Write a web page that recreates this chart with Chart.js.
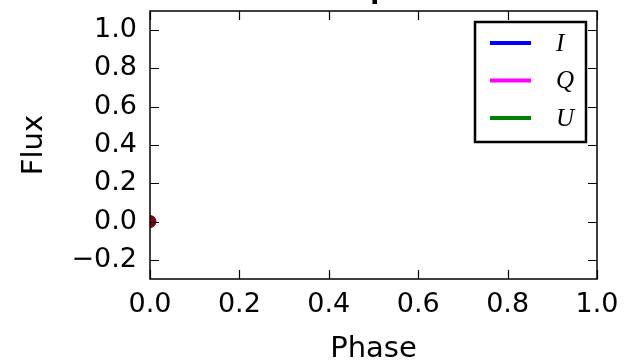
<!DOCTYPE html>
<html>
<head>
<meta charset="utf-8">
<script src="https://cdn.jsdelivr.net/npm/chart.js@4/dist/chart.umd.min.js"></script>
<style>
  html, body { margin: 0; padding: 0; background: #fff; }
  canvas { display: block; }
</style>
</head>
<body>
<canvas id="c" width="632" height="364"></canvas>
<script>
// Stokes pulse profile: phase on x, flux on y
const phasePoints = [0.0];
const fluxPoints = [0.0];
const seriesNames = ['I', 'Q', 'U'];
const seriesColors = ['#0000ff', '#ff00ff', '#008000'];
const seriesI = [];
const seriesQ = [];
const seriesU = [];
const xTicks = [0.0, 0.2, 0.4, 0.6, 0.8, 1.0];
const yTicks = [-0.2, 0.0, 0.2, 0.4, 0.6, 0.8, 1.0];
const titleText = 'Pulse profile';

const tickFont = { family: 'DejaVu Sans', size: 27 };
const labelFont = { family: 'DejaVu Sans', size: 29 };

// Frame with inward ticks on all four sides, plus the boxed legend
const framePlugin = {
  id: 'frame',
  afterDatasetsDraw(chart) {
    const { ctx, chartArea: a, scales } = chart;
    const x = scales.x, y = scales.y;
    ctx.save();
    ctx.strokeStyle = '#000';
    ctx.lineWidth = 1.5;
    ctx.strokeRect(a.left, a.top, a.right - a.left, a.bottom - a.top);
    const tl = 9;
    ctx.beginPath();
    xTicks.forEach(v => {
      const px = Math.round(x.getPixelForValue(v)) + 0.5;
      ctx.moveTo(px, a.bottom); ctx.lineTo(px, a.bottom - tl);
      ctx.moveTo(px, a.top); ctx.lineTo(px, a.top + tl);
    });
    yTicks.forEach(v => {
      const py = Math.round(y.getPixelForValue(v)) + 0.5;
      ctx.moveTo(a.left, py); ctx.lineTo(a.left + tl, py);
      ctx.moveTo(a.right, py); ctx.lineTo(a.right - tl, py);
    });
    ctx.lineWidth = 1.2;
    ctx.stroke();

    // legend box
    const bx = 475, by = 22, bw = 111, bh = 120;
    ctx.fillStyle = '#fff';
    ctx.fillRect(bx, by, bw, bh);
    ctx.lineWidth = 2.5;
    ctx.strokeRect(bx, by, bw, bh);
    const ds = chart.data.datasets.filter(d => d.inLegend);
    ds.forEach((d, i) => {
      const ry = 43 + i * 37.5;
      ctx.strokeStyle = d.borderColor;
      ctx.lineWidth = 4;
      ctx.beginPath();
      ctx.moveTo(490, ry); ctx.lineTo(531, ry);
      ctx.stroke();
      ctx.fillStyle = '#000';
      ctx.font = 'italic 25px "Liberation Serif"';
      ctx.textAlign = 'left';
      ctx.textBaseline = 'middle';
      ctx.fillText(d.label, 556, ry + 1);
    });

    // title, set above the top of the canvas
    ctx.fillStyle = '#000';
    ctx.font = 'bold 26px "DejaVu Sans"';
    ctx.textAlign = 'center';
    ctx.textBaseline = 'alphabetic';
    ctx.fillText(titleText, (a.left + a.right) / 2, -2);
    ctx.restore();
  }
};

const lineSet = (name, color, data) => ({
  label: name, data, inLegend: true, showLine: true,
  borderColor: color, backgroundColor: color, borderWidth: 2, pointRadius: 0
});

new Chart(document.getElementById('c'), {
  type: 'scatter',
  data: {
    datasets: [
      lineSet(seriesNames[0], seriesColors[0], seriesI),
      lineSet(seriesNames[1], seriesColors[1], seriesQ),
      lineSet(seriesNames[2], seriesColors[2], seriesU),
      {
        label: 'phase point',
        data: phasePoints.map((p, i) => ({ x: p, y: fluxPoints[i] })),
        pointRadius: 6,
        pointBackgroundColor: '#8b0010',
        pointBorderColor: '#5a0008',
        pointBorderWidth: 1,
        clip: 0
      }
    ]
  },
  options: {
    responsive: false,
    animation: false,
    events: [],
    layout: { padding: { top: 11, right: 35, left: 0, bottom: 0 } },
    plugins: { legend: { display: false }, title: { display: false }, tooltip: { enabled: false } },
    scales: {
      x: {
        type: 'linear', min: 0, max: 1,
        grid: { display: false, drawTicks: false },
        border: { display: false },
        afterBuildTicks: s => { s.ticks = xTicks.map(v => ({ value: v })); },
        afterFit: s => { s.height = 85; s.paddingLeft = 0; s.paddingRight = 0; },
        ticks: { font: tickFont, color: '#000', padding: 10, maxRotation: 0,
                 callback: v => v.toFixed(1) },
        title: { display: true, text: 'Phase', font: labelFont,
                 color: '#000', padding: { top: 0, bottom: -3 } }
      },
      y: {
        type: 'linear', min: -0.3, max: 1.1,
        grid: { display: false, drawTicks: false },
        border: { display: false },
        afterBuildTicks: s => { s.ticks = yTicks.map(v => ({ value: v })); },
        afterFit: s => { s.width = 150; s.paddingTop = 0; s.paddingBottom = 0; },
        ticks: { font: tickFont, color: '#000', padding: 13,
                 callback: v => (v < 0 ? '\u2212' : '') + Math.abs(v).toFixed(1) },
        title: { display: true, text: 'Flux', font: labelFont,
                 color: '#000', padding: { top: 17, bottom: 0 } }
      }
    }
  },
  plugins: [framePlugin]
});
</script>
</body>
</html>
